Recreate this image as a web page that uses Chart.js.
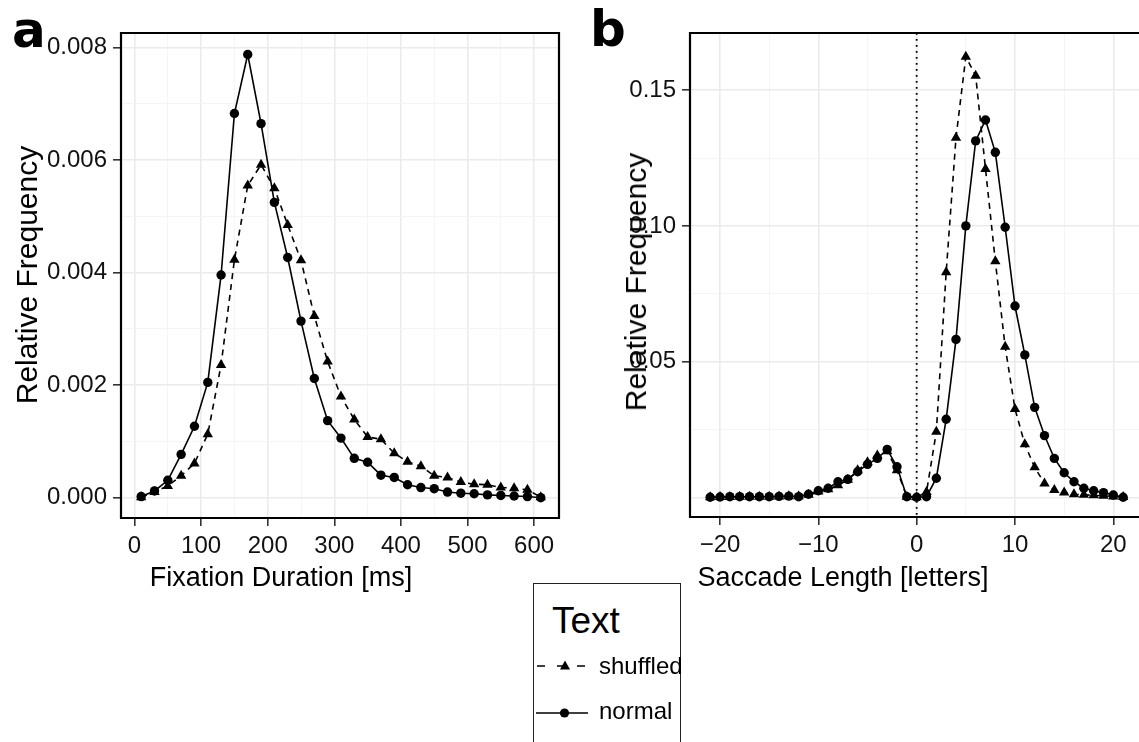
<!DOCTYPE html>
<html>
<head>
<meta charset="utf-8">
<script src="https://cdn.jsdelivr.net/npm/chart.js@4.4.1/dist/chart.umd.min.js"></script>
<style>
  body { margin: 0; background: #fff; width: 1139px; height: 742px; overflow: hidden; position: relative;
         font-family: "Liberation Sans", Arial, Helvetica, sans-serif; }
  canvas { position: absolute; top: 0; }
  #chartA { left: 0; }
  #chartB { left: 580px; }
  .lbl { position: absolute; color: #000; white-space: nowrap; line-height: 1; }
  .ytitle { transform: translate(-50%, -50%) rotate(-90deg); font-size: 30px; }
  .xtitle { transform: translate(-50%, -50%); font-size: 27px; }
  .panel { font-family: "DejaVu Sans", sans-serif; font-weight: bold; font-size: 50px; }
  #legend { position: absolute; left: 533px; top: 583px; width: 148px; height: 175px;
            border: 1.5px solid #222; box-sizing: border-box; background: #fff; }
  #legend .lbl { font-size: 24px; }
  #legend .title { font-size: 37px; }
  #legend svg { position: absolute; left: 0; }
</style>
</head>
<body>
<canvas id="chartA" width="575" height="600"></canvas>
<canvas id="chartB" width="600" height="600"></canvas>

<div class="lbl panel" style="left:12px; top:5px;">a</div>
<div class="lbl panel" style="left:590px; top:4px;">b</div>

<div class="lbl ytitle" style="left:27px; top:275px;">Relative Frequency</div>
<div class="lbl xtitle" style="left:281px; top:577px;">Fixation Duration [ms]</div>
<div class="lbl ytitle" style="left:636px; top:282px;">Relative Frequency</div>
<div class="lbl xtitle" style="left:843px; top:577px;">Saccade Length [letters]</div>

<div id="legend">
  <div class="lbl title" style="left:18px; top:18px;">Text</div>
  <svg width="60" height="20" style="top:72px;">
    <line x1="3" y1="10" x2="56" y2="10" stroke="#000" stroke-width="1.6" stroke-dasharray="8,12"/>
    <polygon points="31,4.5 36,13.5 26,13.5" fill="#000"/>
  </svg>
  <div class="lbl" style="left:65px; top:70px;">shuffled</div>
  <svg width="60" height="20" style="top:119px;">
    <line x1="2" y1="10" x2="54" y2="10" stroke="#000" stroke-width="1.6"/>
    <circle cx="30.5" cy="10" r="4.6" fill="#000"/>
  </svg>
  <div class="lbl" style="left:65px; top:115px;">normal</div>
</div>

<script>
// panel a: fixation duration histogram (bin centres, ms)
const durX = [10, 30, 50, 70, 90, 110, 130, 150, 170, 190, 210, 230, 250, 270, 290, 310,
              330, 350, 370, 390, 410, 430, 450, 470, 490, 510, 530, 550, 570, 590, 610];
const durNormal = [0.00002, 0.00012, 0.00031, 0.00077, 0.00127, 0.00205, 0.00396, 0.00683,
                   0.00788, 0.00665, 0.00525, 0.00427, 0.00314, 0.00212, 0.00137, 0.00106,
                   0.00070, 0.00063, 0.00040, 0.00036, 0.00023, 0.00018, 0.00016, 0.00010,
                   0.00008, 0.00007, 0.00005, 0.00004, 0.00003, 0.00002, 0.00000];
const durShuffled = [0.00001, 0.00010, 0.00021, 0.00039, 0.00061, 0.00113, 0.00236, 0.00423,
                     0.00555, 0.00592, 0.00550, 0.00485, 0.00422, 0.00323, 0.00242, 0.00180,
                     0.00139, 0.00108, 0.00104, 0.00079, 0.00064, 0.00056, 0.00039, 0.00036,
                     0.00028, 0.00024, 0.00023, 0.00018, 0.00017, 0.00014, 0.00001];

// panel b: saccade length (letters)
const lenX = [-21, -20, -19, -18, -17, -16, -15, -14, -13, -12, -11, -10, -9, -8, -7, -6, -5, -4,
              -3, -2, -1, 0, 1, 2, 3, 4, 5, 6, 7, 8, 9, 10, 11, 12, 13, 14, 15, 16, 17, 18, 19, 20, 21];
const lenNormal = [0.0001, 0.0002, 0.0003, 0.0003, 0.0003, 0.0003, 0.0003, 0.0004, 0.0005, 0.0003,
                   0.0012, 0.0025, 0.0034, 0.0058, 0.0067, 0.0095, 0.0122, 0.0144, 0.0177, 0.0113,
                   0.0003, 0.0001, 0.0003, 0.0071, 0.0288, 0.0582, 0.1000, 0.1313, 0.1390, 0.1271,
                   0.0995, 0.0705, 0.0525, 0.0332, 0.0228, 0.0144, 0.0091, 0.0058, 0.0034, 0.0025,
                   0.0018, 0.0009, 0.0001];
const lenShuffled = [0.0001, 0.0002, 0.0002, 0.0003, 0.0003, 0.0003, 0.0003, 0.0004, 0.0005, 0.0005,
                     0.0010, 0.0022, 0.0030, 0.0045, 0.0065, 0.0100, 0.0130, 0.0155, 0.0170, 0.0100,
                     0.0003, 0.0001, 0.0020, 0.0242, 0.0829, 0.1325, 0.1623, 0.1553, 0.1210, 0.0870,
                     0.0555, 0.0326, 0.0196, 0.0111, 0.0052, 0.0028, 0.0018, 0.0012, 0.0010, 0.0008,
                     0.0006, 0.0004, 0.0002];

const majorGrid = '#ebebeb', minorGrid = '#f4f4f4';

function pts(xs, ys) { return xs.map((x, i) => ({ x: x, y: ys[i] })); }

function series(xs, normal, shuffled) {
  return [
    { label: 'shuffled', data: pts(xs, shuffled), order: 1,
      borderColor: '#000', borderWidth: 1.6, borderDash: [6, 5], tension: 0,
      pointStyle: 'triangle', pointRadius: 6, pointBackgroundColor: '#000',
      pointBorderColor: '#000', pointBorderWidth: 0 },
    { label: 'normal', data: pts(xs, normal), order: 0,
      borderColor: '#000', borderWidth: 1.6, tension: 0,
      pointStyle: 'circle', pointRadius: 4.7, pointBackgroundColor: '#000',
      pointBorderColor: '#000', pointBorderWidth: 0 }
  ];
}

function axis(min, max, step, isMajor, label, size) {
  return {
    type: 'linear', min: min, max: max,
    afterFit: s => { if (s.isHorizontal()) s.height = size; else s.width = size; },
    border: { display: false },
    grid: {
      color: c => (c.tick && isMajor(c.tick.value)) ? majorGrid : minorGrid,
      lineWidth: c => (c.tick && isMajor(c.tick.value)) ? 1.6 : 0.9,
      tickColor: c => (c.tick && label(c.tick.value) !== '') ? '#333' : 'rgba(0,0,0,0)',
      tickWidth: 1.6, tickLength: 8
    },
    ticks: {
      stepSize: step, includeBounds: false, autoSkip: false, maxRotation: 0, minRotation: 0,
      padding: 6, color: '#111', font: { family: 'Liberation Sans', size: 24 },
      callback: v => label(v)
    }
  };
}

const framePlugin = {
  id: 'frame',
  afterDraw(chart, args, opts) {
    const { ctx, chartArea: a } = chart;
    ctx.save();
    ctx.strokeStyle = '#000';
    ctx.lineWidth = 2.2;
    ctx.beginPath();
    if (opts.full) {
      ctx.rect(a.left, a.top, a.right - a.left, a.bottom - a.top);
    } else {
      ctx.moveTo(a.right + 5, a.top);
      ctx.lineTo(a.left, a.top);
      ctx.lineTo(a.left, a.bottom);
      ctx.lineTo(a.right + 5, a.bottom);
    }
    ctx.stroke();
    ctx.restore();
  }
};

const zeroLine = {
  id: 'zeroLine',
  beforeDatasetsDraw(chart, args, opts) {
    if (!opts.show) return;
    const { ctx, chartArea: a, scales } = chart;
    const x = scales.x.getPixelForValue(0);
    ctx.save();
    ctx.strokeStyle = '#000';
    ctx.lineWidth = 1.8;
    ctx.setLineDash([1.8, 4.2]);
    ctx.beginPath();
    ctx.moveTo(x, a.top);
    ctx.lineTo(x, a.bottom);
    ctx.stroke();
    ctx.restore();
  }
};

function near(v, step) { return Math.abs(v / step - Math.round(v / step)) < 1e-6; }

const baseOptions = {
  responsive: false, animation: false, devicePixelRatio: 1,
  plugins: { legend: { display: false }, tooltip: { enabled: false } }
};

// panel a
new Chart(document.getElementById('chartA'), {
  type: 'line',
  data: { datasets: series(durX, durNormal, durShuffled) },
  options: Object.assign({}, baseOptions, {
    layout: { padding: { top: 33, left: 0, right: 16, bottom: 0 } },
    plugins: Object.assign({}, baseOptions.plugins, { frame: { full: true }, zeroLine: { show: false } }),
    scales: {
      x: axis(-20.3, 637.4, 50, v => near(v, 100), v => near(v, 100) ? String(Math.round(v)) : '', 82),
      y: axis(-0.000361, 0.008262, 0.001, v => near(v, 0.002),
              v => near(v, 0.002) ? v.toFixed(3) : '', 121)
    }
  }),
  plugins: [framePlugin, zeroLine]
});

// panel b (plot area runs off the right edge of the page)
new Chart(document.getElementById('chartB'), {
  type: 'line',
  data: { datasets: series(lenX, lenNormal, lenShuffled) },
  options: Object.assign({}, baseOptions, {
    layout: { padding: { top: 33, left: 0, right: 41, bottom: 0 } },
    plugins: Object.assign({}, baseOptions.plugins, { frame: { full: false }, zeroLine: { show: true } }),
    scales: {
      x: axis(-23.05, 22.61, 5, v => near(v, 10),
              v => near(v, 10) ? String(Math.round(v)).replace('-', '\u2212') : '', 83),
      y: axis(-0.00718, 0.17103, 0.025, v => near(v, 0.05),
              v => (near(v, 0.05) && Math.abs(v) > 1e-9) ? v.toFixed(2) : '', 110)
    }
  }),
  plugins: [framePlugin, zeroLine]
});
</script>
</body>
</html>
